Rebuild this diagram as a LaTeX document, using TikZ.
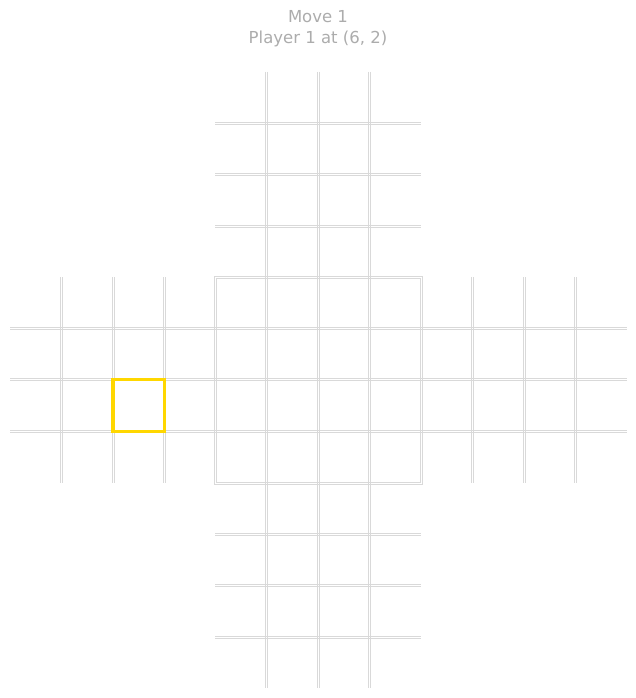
\documentclass[tikz,border=0pt]{standalone}
\usepackage{fontspec}
\setmainfont{DejaVu Sans}
\begin{document}
\begin{tikzpicture}[x=1pt,y=-1pt,
  gl/.style={draw=gray!30,line width=0.8pt},
  sel/.style={draw={rgb,255:red,255;green,215;blue,0},line width=3.3pt},
  ttl/.style={text=gray!65,font=\fontsize{16.5}{19}\selectfont,inner sep=0pt}]
\useasboundingbox (0,0) rectangle (636,698);
\node[ttl] (t1) at (318,17) {Move 1};
\node[ttl] (t2) at (318,39) {Player 1 at (6, 2)};
% vertical lines through top/center/bottom
\foreach \x in {266.6,318,369.4} {\draw[gl] (\x-1,72) -- (\x-1,688); \draw[gl] (\x+1,72) -- (\x+1,688);}
% horizontal lines through left/center/right
\foreach \y in {328.4,379.8,431.2} {\draw[gl] (10,\y-1) -- (627,\y-1); \draw[gl] (10,\y+1) -- (627,\y+1);}
% left and right arm verticals
\foreach \x in {61.6,113,164.4,472.6,524,575.4} {\draw[gl] (\x-1,277) -- (\x-1,483); \draw[gl] (\x+1,277) -- (\x+1,483);}
% top and bottom arm horizontals
\foreach \y in {123.4,174.8,226.2,534.4,585.8,637.2} {\draw[gl] (215,\y-1) -- (421,\y-1); \draw[gl] (215,\y+1) -- (421,\y+1);}
% center border
\draw[gl] (214,276) rectangle (422,484);
\draw[gl] (216,278) rectangle (420,482);
% selected cell
\draw[sel] (113,379.8) rectangle (164.4,431.2);
\end{tikzpicture}
\end{document}
